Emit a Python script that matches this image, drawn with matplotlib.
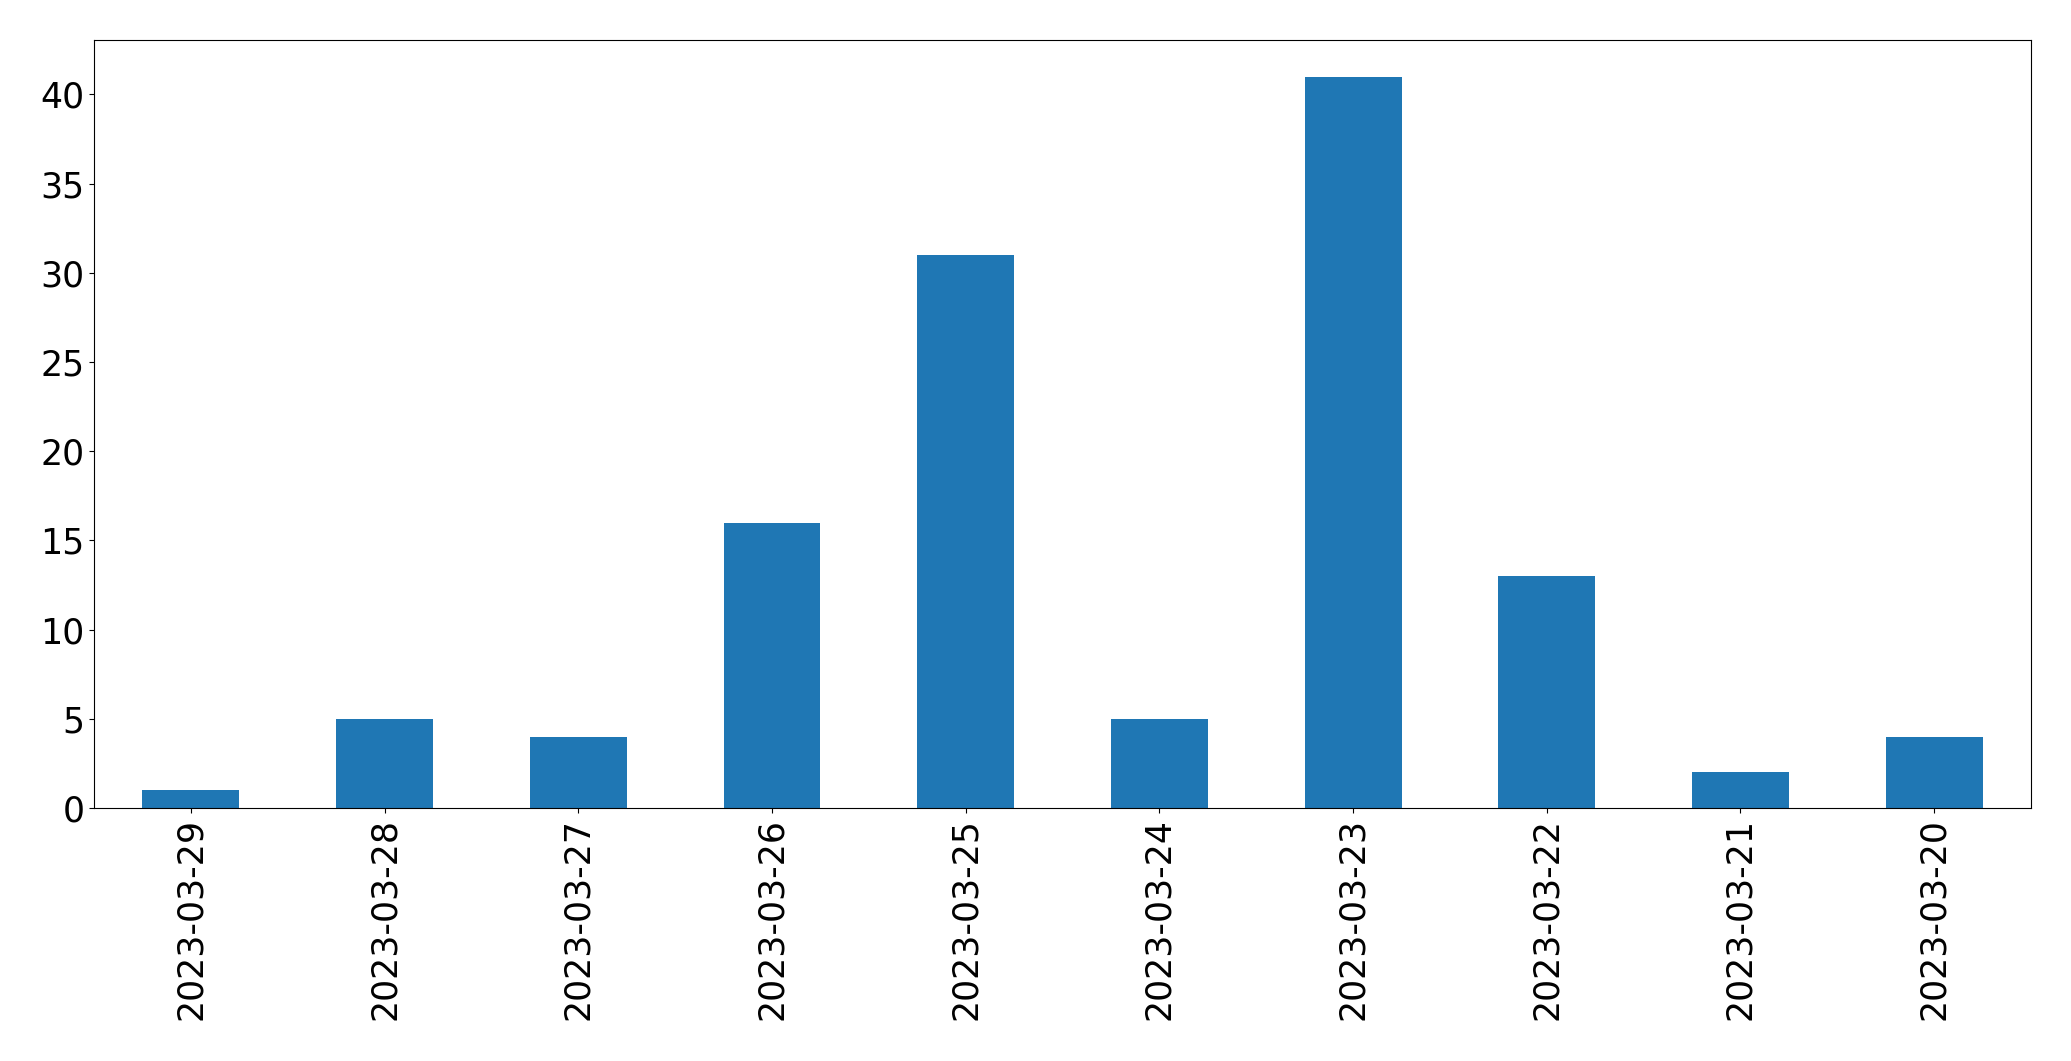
import matplotlib
matplotlib.use("Agg")
import matplotlib.pyplot as plt
import pandas as pd

dates = ["2023-03-29", "2023-03-28", "2023-03-27", "2023-03-26", "2023-03-25",
         "2023-03-24", "2023-03-23", "2023-03-22", "2023-03-21", "2023-03-20"]
counts = [1, 5, 4, 16, 31, 5, 41, 13, 2, 4]

s = pd.Series(counts, index=dates)

fig = plt.figure(figsize=(20.71, 10.61), dpi=100)
ax = fig.add_axes([0.0454, 0.2385, 0.9353, 0.7238])
s.plot(kind="bar", ax=ax, color="#1f77b4", fontsize=25)
ax.tick_params(axis="both", labelsize=25)

fig.savefig("out.png", dpi=100)
